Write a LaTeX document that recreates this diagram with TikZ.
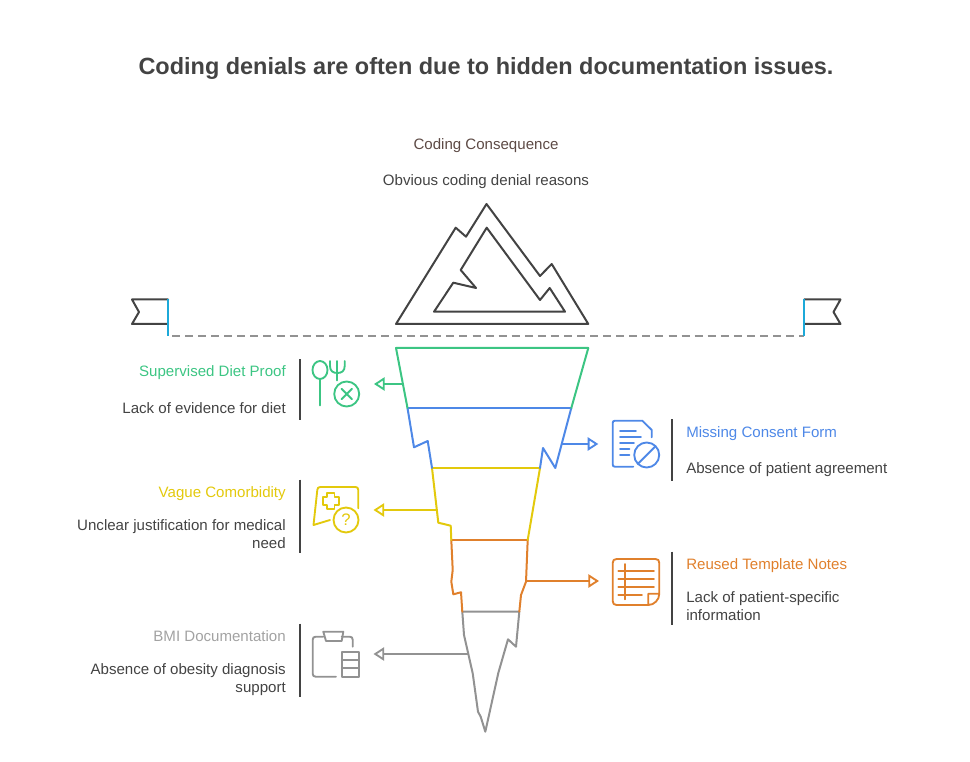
\documentclass[tikz,border=0pt]{standalone}
\usepackage{fontspec}
\setmainfont{Liberation Sans}
\usetikzlibrary{arrows.meta}
\definecolor{cgreen}{HTML}{3CC583}
\definecolor{cblue}{HTML}{4E88E7}
\definecolor{cyellow}{HTML}{E3C90C}
\definecolor{corange}{HTML}{E0802C}
\definecolor{cgray}{HTML}{929292}
\definecolor{cdark}{HTML}{434343}
\definecolor{cbrown}{HTML}{5D4A45}
\definecolor{ccyan}{HTML}{1CA9D9}
\newcommand{\bodyfont}{\fontsize{11.3pt}{13.5pt}\selectfont}
\tikzset{
  every node/.style={inner sep=0pt},
  ln/.style={line width=1.5pt,line join=round,line cap=round},
  mount/.style={ln,draw=cdark},
  bar/.style={line width=1.9pt,draw=cdark},
  arr/.style={line width=1.5pt,line join=round,-{Triangle[open,length=8pt,width=10pt,line width=1.4pt]}},
  icon/.style={line width=1.4pt,line join=round,line cap=round},
  headL/.style={anchor=base east,align=right,font=\bodyfont},
  headR/.style={anchor=base west,align=left,font=\bodyfont},
  bodyL/.style={anchor=east,align=right,font=\bodyfont,text=cdark},
  bodyR/.style={anchor=west,align=left,font=\bodyfont,text=cdark},
  lineL/.style={anchor=base east,font=\bodyfont,text=cdark},
  lineR/.style={anchor=base west,font=\bodyfont,text=cdark},
}
\begin{document}
\begin{tikzpicture}[x=0.75pt,y=-0.75pt]
\useasboundingbox (0,0) rectangle (970,762);
% title
\node[anchor=base,font=\bfseries\fontsize{17.6pt}{22pt}\selectfont,text=cdark] (title) at (486,75) {Coding denials are often due to hidden documentation issues.};
\node[anchor=base,font=\bodyfont,text=cbrown] (cons) at (486,149.7) {Coding Consequence};
\node[anchor=base,font=\bodyfont,text=cdark] (obv) at (486,185.7) {Obvious coding denial reasons};
% mountain
\draw[mount] (396,324) -- (455.7,227.7) -- (466,236.7) -- (486.5,204) -- (540,276) -- (551.7,264) -- (588.3,324) -- cycle;
\draw[mount] (486.7,227.7) -- (540,300) -- (549.7,288) -- (565,311.7) -- (434,311.7) -- (453.3,282.7) -- (476,288) -- (460.7,270) -- cycle;
% flags
\coordinate (pl) at (168,336);
\coordinate (pr) at (804,336);
\draw[mount] (168,299.5) -- (132,299.5) -- (139,312) -- (132,324) -- (168,324);
\draw[mount] (804,299.5) -- (840.5,299.5) -- (833.5,312) -- (840.5,324) -- (804,324);
\draw[line width=1.6pt,draw=cgray,dash pattern=on 6pt off 3.8pt,shorten <=3pt] (pl) -- (pr);
\draw[line width=1.6pt,draw=ccyan] (168,299) -- (pl);
\draw[line width=1.6pt,draw=ccyan] (804,299) -- (pr);
% funnel
\coordinate (g1) at (396,348); \coordinate (g2) at (588.3,348);
\coordinate (b1) at (407.5,408); \coordinate (b2) at (571.3,408);
\coordinate (y1) at (432,468); \coordinate (y2) at (540,468);
\coordinate (o1) at (451.3,540); \coordinate (o2) at (527.7,540);
\coordinate (s1) at (462.3,611.7); \coordinate (s2) at (519.3,611.7);
\coordinate (tip) at (485.3,731.7);
\draw[ln,draw=cgray] (s1) -- (464,635) -- (472.7,673.3) -- (478,711.7) -- (480.7,716.7) -- (tip) -- (498.3,673) -- (508,639.3) -- (516,646.7) -- (s2) -- cycle;
\draw[ln,draw=corange] (o1) -- (452.7,570) -- (451.3,581.7) -- (453.3,594.3) -- (461,592.3) -- (s1);
\draw[ln,draw=corange] (o2) -- (526,581.7) -- (521,595) -- (s2);
\draw[ln,draw=corange] (o1) -- (o2);
\draw[ln,draw=cyellow] (y1) -- (438.3,522.7) -- (450.7,525.7) -- (o1);
\draw[ln,draw=cyellow] (y2) -- (o2);
\draw[ln,draw=cyellow] (y1) -- (y2);
\draw[ln,draw=cblue] (b1) -- (414,447.3) -- (427.7,441) -- (y1);
\draw[ln,draw=cblue] (b2) -- (555.3,468) -- (543,448) -- (y2);
\draw[ln,draw=cblue] (b1) -- (b2);
\draw[ln,draw=cgreen] (b1) -- (g1) -- (g2) -- (b2);
% arrows
\coordinate (a1s) at (403.3,384); \coordinate (a1e) at (374,384);
\coordinate (a2s) at (561.7,444); \coordinate (a2e) at (598.3,444);
\coordinate (a3s) at (436.7,510); \coordinate (a3e) at (373.5,510);
\coordinate (a4s) at (526,581); \coordinate (a4e) at (599,581);
\coordinate (a5s) at (467.7,654); \coordinate (a5e) at (373.5,654);
\draw[arr,draw=cgreen] (a1s) -- (a1e);
\draw[arr,draw=cblue] (a2s) -- (a2e);
\draw[arr,draw=cyellow] (a3s) -- (a3e);
\draw[arr,draw=corange] (a4s) -- (a4e);
\draw[arr,draw=cgray] (a5s) -- (a5e);
% bars
\draw[bar] (300,359.5) -- (300,420.5);
\draw[bar] (672,419.5) -- (672,480.5);
\draw[bar] (300,479.5) -- (300,552.5);
\draw[bar] (672,551.5) -- (672,625);
\draw[bar] (300,623.5) -- (300,696.5);
% texts
\node[headL,text=cgreen] (t1) at (286,377) {Supervised Diet Proof};
\node[lineL] (d1) at (286,413) {Lack of evidence for diet};
\node[headR,text=cblue] (t2) at (686,437) {Missing Consent Form};
\node[lineR] (d2) at (686,473) {Absence of patient agreement};
\node[headL,text=cyellow] (t3) at (286,497) {Vague Comorbidity};
\node[bodyL] (d3) at (286,534) {Unclear justification for medical\\need};
\node[headR,text=corange] (t4) at (686,569) {Reused Template Notes};
\node[bodyR] (d4) at (686,606) {Lack of patient-specific\\information};
\node[headL,text=cgray!85] (t5) at (286,641) {BMI Documentation};
\node[bodyL] (d5) at (286,679.5) {Absence of obesity diagnosis\\support};
% green icon
\begin{scope}[icon,draw=cgreen]
\draw (320,370) ellipse [x radius=7.5,y radius=9];
\draw (320,379) -- (320,405.5);
\draw (330,361) -- (330,366) .. controls (330,371) and (333,373) .. (337.3,373) .. controls (341.7,373) and (344.7,371) .. (344.7,366) -- (344.7,361);
\draw (337.3,361) -- (337.3,380.5);
\draw (346.7,394) circle [radius=12.5];
\draw (341.5,388.8) -- (351.9,399.2) (351.9,388.8) -- (341.5,399.2);
\end{scope}
% blue icon
\begin{scope}[icon,draw=cblue]
\draw (633.3,466.7) -- (615,466.7) .. controls (613.5,466.7) and (612.7,466) .. (612.7,464.5) -- (612.7,423) .. controls (612.7,421.5) and (613.5,420.7) .. (615,420.7) -- (642.3,420.7) -- (651.7,430) -- (651.7,437.3);
\draw (620,430.7) -- (636,430.7) (620,437) -- (641,437) (620,443) -- (634,443) (620,449) -- (629.5,449) (620,455) -- (629.5,455);
\draw (646.7,455) circle [radius=12.5];
\draw (638,463.7) -- (655.5,446.3);
\end{scope}
% yellow icon
\begin{scope}[icon,draw=cyellow]
\draw (358.3,508.3) -- (358.3,490) .. controls (358.3,488) and (357.3,487) .. (355.3,487) -- (320.3,487) .. controls (318.3,487) and (317.5,488) .. (317.3,490) -- (313.5,525) -- (330,520);
\draw (346,520) circle [radius=12.5];
\draw (327,492.7) -- (334.5,492.7) -- (334.5,496.7) -- (338.7,496.7) -- (338.7,504.7) -- (334.5,504.7) -- (334.5,508.7) -- (327,508.7) -- (327,504.7) -- (322.7,504.7) -- (322.7,496.7) -- (327,496.7) -- cycle;
\end{scope}
\node[text=cyellow,font=\fontsize{12.5pt}{13pt}\selectfont] (q) at (346,520) {?};
% orange icon
\begin{scope}[icon,draw=corange]
\draw (648.3,605) -- (616.7,605) .. controls (614,605) and (612.7,603.7) .. (612.7,601) -- (612.7,563) .. controls (612.7,560.3) and (614,559) .. (616.7,559) -- (655.3,559) .. controls (658,559) and (659.3,560.3) .. (659.3,563) -- (659.3,593.7) .. controls (659.3,600) and (654,605) .. (648.3,605) -- (648.3,593.7) -- (659.3,593.7);
\draw (618.3,570.7) -- (654,570.7) (618.3,578.7) -- (654,578.7) (618.3,586.7) -- (654,586.7) (618.3,594.7) -- (642,594.7);
\draw (625,564) -- (625,599.3);
\end{scope}
% gray icon
\begin{scope}[icon,draw=cgray]
\draw (336,676.7) -- (315.7,676.7) .. controls (313.7,676.7) and (312.7,675.7) .. (312.7,673.7) -- (312.7,639.7) .. controls (312.7,637.7) and (313.7,636.7) .. (315.7,636.7) -- (323.3,636.7);
\draw (341.7,636.7) -- (349.7,636.7) .. controls (351.7,636.7) and (352.7,637.7) .. (352.7,639.7) -- (352.7,646.7);
\draw (323.3,631.7) -- (343.3,631.7) -- (341.7,641) -- (326,641) -- cycle;
\draw (341.7,651.7) rectangle (359,676.7);
\draw (341.7,660) -- (359,660) (341.7,668.3) -- (359,668.3);
\end{scope}
\end{tikzpicture}
\end{document}
